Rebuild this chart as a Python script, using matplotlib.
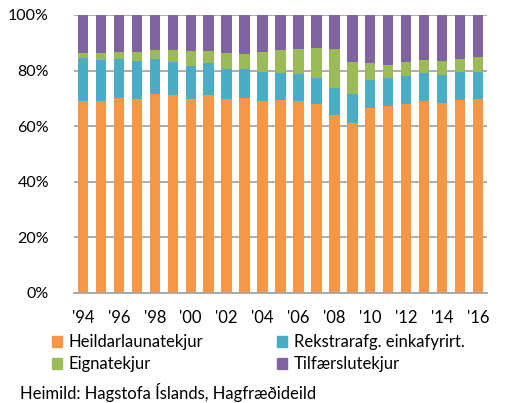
import matplotlib.pyplot as plt
import matplotlib.patches as mpatches
import numpy as np

# Tekjuskipting, hlutfall (%)
years = list(range(1994, 2017))
laun = [69.1, 69.1, 70.3, 69.7, 71.6, 71.1, 69.8, 71.2, 69.9, 70.0, 69.1, 69.4,
        69.1, 68.0, 64.0, 61.2, 66.5, 67.4, 68.1, 69.1, 68.3, 69.4, 69.8]
rekstur = [15.3, 14.8, 13.8, 13.6, 12.5, 11.9, 12.0, 11.4, 10.6, 10.7, 10.5, 9.8,
           9.8, 9.4, 9.7, 10.5, 10.2, 10.0, 10.1, 9.9, 10.1, 10.0, 9.8]
eignir = [2.0, 2.3, 2.5, 3.5, 3.2, 4.3, 5.3, 4.5, 5.9, 5.4, 7.0, 8.2,
          9.0, 10.8, 14.1, 11.5, 6.0, 4.6, 4.8, 4.7, 4.9, 4.8, 5.2]
tilfaersla = [13.6, 13.8, 13.4, 13.2, 12.7, 12.7, 12.9, 12.9, 13.6, 13.9, 13.4, 12.6,
              12.1, 11.8, 12.2, 16.8, 17.3, 18.0, 17.0, 16.3, 16.7, 15.8, 15.2]

series = [laun, rekstur, eignir, tilfaersla]
labels = ['Heildarlaunatekjur', 'Rekstrarafg. einkafyrirt.', 'Eignatekjur', 'Tilfærslutekjur']
colors = ['#F79646', '#4BACC6', '#9BBB59', '#8064A2']

plt.rcParams['font.family'] = ['Lato', 'DejaVu Sans']

fig = plt.figure(figsize=(5.05, 4.03), dpi=100)
ax = fig.add_axes([74/505, 1 - 293/403, 413/505, 278/403])

x = np.arange(len(years))
bottom = np.zeros(len(years))
for vals, c in zip(series, colors):
    ax.bar(x, vals, width=0.58, bottom=bottom, color=c, zorder=2)
    bottom += np.array(vals)

ax.set_xlim(-0.5, len(years) - 0.5)
ax.set_ylim(0, 100)
ax.set_yticks(range(0, 101, 20))
ax.set_yticklabels([f'{v}%' for v in range(0, 101, 20)], fontsize=11.5)
ax.set_xticks(x[::2])
ax.set_xticklabels([f"'{str(y)[2:]}" for y in years[::2]], fontsize=12)
ax.tick_params(axis='x', length=0, pad=12)
ax.tick_params(axis='y', length=0, pad=18)
ax.yaxis.grid(True, color='#A6A6A6', linewidth=1.3, zorder=0)
for s in ['top', 'right', 'left']:
    ax.spines[s].set_visible(False)
ax.spines['bottom'].set_color('#A6A6A6')
ax.spines['bottom'].set_linewidth(1.3)

handles = [mpatches.Patch(color=colors[i], label=labels[i]) for i in [0, 2, 1, 3]]
fig.legend(handles=handles, ncol=2, loc='upper left', bbox_to_anchor=(44/505, 1 - 326/403),
           frameon=False, fontsize=12, handlelength=0.6, handleheight=0.6,
           handletextpad=0.4, columnspacing=4.4, labelspacing=0.35, borderpad=0)

fig.text(20/505, 1 - 393/403, 'Heimild: Hagstofa Íslands, Hagfræðideild', fontsize=12,
         va='center', ha='left')

fig.savefig('out.png', dpi=100)
